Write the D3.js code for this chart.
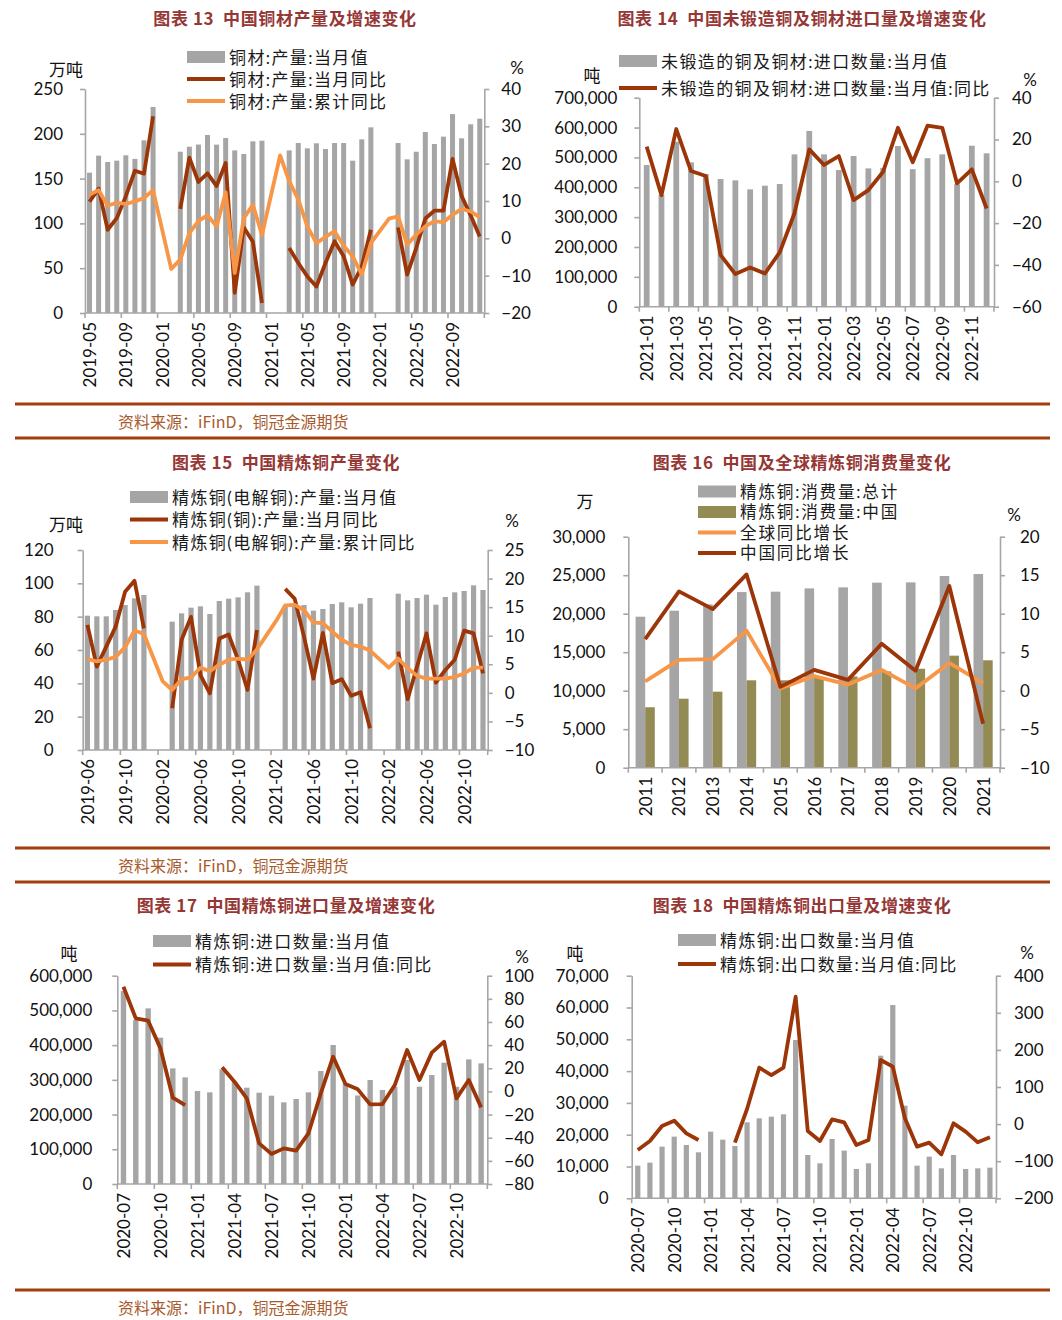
<!DOCTYPE html>
<html><head><meta charset="utf-8">
<script src="https://cdn.jsdelivr.net/npm/d3@7"></script>
<style>body{margin:0;background:#fff}svg{display:block}</style>
</head><body>
<svg id="c" width="1062" height="1320"></svg>
<script>
// ---------- DATA ----------
// Panel 13: 中国铜材产量及增速变化
const p13Months = ["2019-05","2019-06","2019-07","2019-08","2019-09","2019-10","2019-11","2019-12",
"2020-01","2020-02","2020-03","2020-04","2020-05","2020-06","2020-07","2020-08","2020-09","2020-10","2020-11","2020-12",
"2021-01","2021-02","2021-03","2021-04","2021-05","2021-06","2021-07","2021-08","2021-09","2021-10","2021-11","2021-12",
"2022-01","2022-02","2022-03","2022-04","2022-05","2022-06","2022-07","2022-08","2022-09","2022-10","2022-11","2022-12"];
const p13Output = [156.6,175.6,168.5,170,176,172,192.7,229.9,
null,null,180,185.6,188,198.7,187.9,195.3,181.5,177.5,191.6,192.3,
null,null,181.5,189.7,183.8,189.4,183,189.7,189.7,170,193.8,207.2,
null,null,189.7,171.5,180,202,188.6,196.8,222,195,210.6,216.9];
const p13MonthYoY = [9.8,13.3,2.3,5.4,11.3,18.1,17.3,32.7,
null,null,7.9,21.6,15.1,17.4,14,20.2,-14.6,2.9,-0.9,-17.3,
null,null,-2.6,-6.6,-10.2,-12.9,-6.6,-0.8,-4.8,-12.4,-7.5,2.3,
null,null,2.9,-9.7,-2.6,5.3,7.4,7.4,21.3,11.3,6.1,0.5];
const p13CumYoY = [11.7,12.9,8.8,9.5,9.2,9.9,10.8,12.9,
null,-8.2,-5.7,1.4,4.6,6.2,3.2,12.3,-9.3,5.4,9,0.9,
null,22.2,15.3,10.4,3.2,-1.3,0.4,1.9,-2,-4.8,-9.7,-1.3,
null,5.3,5.9,-1.7,1,3.2,4.6,4.3,6.3,7.9,7.2,5.6];
const p13XLabels = ["2019-05","2019-09","2020-01","2020-05","2020-09","2021-01","2021-05","2021-09","2022-01","2022-05","2022-09"];
const p13LeftTicks = [0,50,100,150,200,250];
const p13RightTicks = [-20,-10,0,10,20,30,40];

// Panel 14: 中国未锻造铜及铜材进口量及增速变化
const p14Months = ["2021-01","2021-02","2021-03","2021-04","2021-05","2021-06","2021-07","2021-08","2021-09","2021-10","2021-11","2021-12",
"2022-01","2022-02","2022-03","2022-04","2022-05","2022-06","2022-07","2022-08","2022-09","2022-10","2022-11","2022-12"];
const p14Import = [474500,375000,552600,483400,444300,427600,423100,393000,405300,410800,510200,588500,
510200,457700,504600,463300,465000,538100,460600,497400,510200,410000,539200,513600];
const p14YoY = [16.6,-6.6,25,4.9,2.5,-35.3,-44.4,-41.2,-44.1,-34,-15.3,15.3,
7.8,12.1,-9,-4.2,4.6,25.6,9.1,26.6,25.6,-1,5.7,-13];
const p14XLabels = ["2021-01","2021-03","2021-05","2021-07","2021-09","2021-11","2022-01","2022-03","2022-05","2022-07","2022-09","2022-11"];
const p14LeftTicks = [0,100000,200000,300000,400000,500000,600000,700000];
const p14RightTicks = [-60,-40,-20,0,20,40];

// Panel 15: 中国精炼铜产量变化
const p15Months = ["2019-06","2019-07","2019-08","2019-09","2019-10","2019-11","2019-12",
"2020-01","2020-02","2020-03","2020-04","2020-05","2020-06","2020-07","2020-08","2020-09","2020-10","2020-11","2020-12",
"2021-01","2021-02","2021-03","2021-04","2021-05","2021-06","2021-07","2021-08","2021-09","2021-10","2021-11","2021-12",
"2022-01","2022-02","2022-03","2022-04","2022-05","2022-06","2022-07","2022-08","2022-09","2022-10","2022-11","2022-12"];
const p15Output = [80.6,80.2,80.2,84,87,91,93,
null,null,77,82,85.4,86.2,81.6,89.4,90.8,91.6,94.6,98.6,
null,null,86.5,87.5,87,83.6,84.6,87.6,88.6,85.6,87.8,91.2,
null,null,93.8,89.8,91.2,93.2,87.2,91.8,94.6,95.4,98.8,96];
const p15MonthYoY = [11.9,4.6,8.1,11.6,17.7,19.6,11.3,
null,null,-2.7,9.3,13.3,3.1,-0.1,9.5,10.2,5.8,0.5,11,
null,null,18.2,16.5,9.8,2.5,10.5,1.7,2.4,-0.5,0.1,-6.2,
null,null,7.2,-1.1,4.6,10.4,1.8,4,5.8,10.9,10.4,3.4];
const p15CumYoY = [5.9,5.5,5.8,6.3,8,10.9,10.3,
null,2.0,0.5,2.4,2.7,4.4,3.8,4.9,5.8,6,5.8,7.6,
null,12.5,15.3,15.4,14.5,12.3,12.2,10.7,9.3,8.4,8.1,7.4,
null,4.4,6,4.3,3,2.5,2.5,2.5,2.8,3.4,4.4,4.4];
const p15XLabels = ["2019-06","2019-10","2020-02","2020-06","2020-10","2021-02","2021-06","2021-10","2022-02","2022-06","2022-10"];
const p15LeftTicks = [0,20,40,60,80,100,120];
const p15RightTicks = [-10,-5,0,5,10,15,20,25];

// Panel 16: 中国及全球精炼铜消费量变化
const p16Years = ["2011","2012","2013","2014","2015","2016","2017","2018","2019","2020","2021"];
const p16Global = [19610,20390,21210,22810,22860,23290,23420,24030,24070,24890,25150];
const p16China = [7850,8960,9870,11350,11350,11700,11850,12500,12850,14550,13950];
const p16GlobalYoY = [1.2,4.0,4.1,7.8,0.3,1.9,0.8,2.7,0.3,3.6,0.95];
const p16ChinaYoY = [6.7,12.9,10.6,15.1,0.5,2.7,1.4,6.1,2.6,13.6,-4.3];
const p16LeftTicks = [0,5000,10000,15000,20000,25000,30000];
const p16RightTicks = [-10,-5,0,5,10,15,20];

// Panel 17: 中国精炼铜进口量及增速变化
const p17Months = ["2020-07","2020-08","2020-09","2020-10","2020-11","2020-12",
"2021-01","2021-02","2021-03","2021-04","2021-05","2021-06","2021-07","2021-08","2021-09","2021-10","2021-11","2021-12",
"2022-01","2022-02","2022-03","2022-04","2022-05","2022-06","2022-07","2022-08","2022-09","2022-10","2022-11","2022-12"];
const p17Import = [555800,472300,505900,421400,333100,307200,
267800,264000,330000,295000,277400,263000,254400,235200,244800,264000,325400,400300,
290000,255000,299500,270700,280000,357100,280300,313900,349400,280000,359000,347500];
const p17YoY = [90.5,63.1,61.1,37.2,-5.4,-11.8,
null,null,20.8,8.4,-6,-44.9,-54,-49.2,-51.2,-36.2,-1.7,30,
6.4,1.8,-11.2,-10.9,5.5,35.8,9.9,33.5,43,-6,9.9,-13.8];
const p17XLabels = ["2020-07","2020-10","2021-01","2021-04","2021-07","2021-10","2022-01","2022-04","2022-07","2022-10"];
const p17LeftTicks = [0,100000,200000,300000,400000,500000,600000];
const p17RightTicks = [-80,-60,-40,-20,0,20,40,60,80,100];

// Panel 18: 中国精炼铜出口量及增速变化
const p18Months = ["2020-07","2020-08","2020-09","2020-10","2020-11","2020-12",
"2021-01","2021-02","2021-03","2021-04","2021-05","2021-06","2021-07","2021-08","2021-09","2021-10","2021-11","2021-12",
"2022-01","2022-02","2022-03","2022-04","2022-05","2022-06","2022-07","2022-08","2022-09","2022-10","2022-11","2022-12"];
const p18Export = [10270,11210,16240,19390,16770,14460,
20960,18440,16450,23890,25150,25670,26410,49780,13620,11000,18650,14990,
9220,11000,44850,60780,29130,10270,13100,9430,13620,9220,9430,9640];
const p18YoY = [-69.8,-45.5,-5,9.3,-24.9,-42.8,
null,null,-50,40.7,152.1,132.3,152,343.4,-18.6,-45.5,12.9,4.8,
-56.3,-42.8,172.7,154.8,15.6,-60.8,-50,-81.5,2.1,-20.4,-49.1,-35.6];
const p18XLabels = ["2020-07","2020-10","2021-01","2021-04","2021-07","2021-10","2022-01","2022-04","2022-07","2022-10"];
const p18LeftTicks = [0,10000,20000,30000,40000,50000,60000,70000];
const p18RightTicks = [-200,-100,0,100,200,300,400];

// ---------- STYLE ----------
const GRAY = "#a5a5a5", DARK = "#9c3508", ORANGE = "#f79646", OLIVE = "#948a54";
const AXIS = "#a6a6a6", TITLE = "#953735", RULE = "#a33d10", SRC = "#a85a2c";
const NUM_FONT = "Lato, 'Open Sans', sans-serif";
const CJK_FONT = "'Noto Sans CJK SC', 'Noto Sans', sans-serif";
const LEG_FONT = "Lato, 'Noto Sans CJK SC', sans-serif";

const svg = d3.select("#c");

function panel(cfg) {
  const g = svg.append("g");
  const x = d3.scaleBand().domain(cfg.cats).range([cfg.left, cfg.right]).padding(0);
  const bw = x.bandwidth();
  const yL = d3.scaleLinear().domain(cfg.lDomain).range([cfg.bottom, cfg.top]);
  const yR = d3.scaleLinear().domain(cfg.rDomain).range([cfg.bottom, cfg.top]);

  // bars
  cfg.bars.forEach(b => {
    const data = cfg.cats.map((c, i) => ({c, v: b.values[i]})).filter(d => d.v != null);
    g.append("g").selectAll("rect").data(data).enter().append("rect")
      .attr("x", d => x(d.c) + bw / 2 + b.offset - b.width / 2)
      .attr("width", b.width)
      .attr("y", d => yL(d.v))
      .attr("height", d => yL(0) - yL(d.v))
      .attr("fill", b.color);
  });

  // axes
  const axL = g.append("g").attr("transform", `translate(${cfg.left},0)`)
    .call(d3.axisLeft(yL).tickValues(cfg.lTicks).tickFormat(cfg.lFmt).tickSize(5).tickSizeOuter(0).tickPadding(cfg.lPad));
  const axR = g.append("g").attr("transform", `translate(${cfg.right},0)`)
    .call(d3.axisRight(yR).tickValues(cfg.rTicks).tickFormat(d3.format("d")).tickSize(5).tickSizeOuter(0).tickPadding(cfg.rPad));
  [axL, axR].forEach(a => {
    a.select(".domain").attr("stroke", AXIS).attr("stroke-width", 1.6);
    a.selectAll(".tick line").attr("stroke", AXIS).attr("stroke-width", 1.6);
    a.selectAll("text").attr("font-family", NUM_FONT).attr("font-size", 17).attr("fill", "#111");
  });

  // bottom axis
  g.append("line").attr("x1", cfg.left).attr("x2", cfg.right)
    .attr("y1", cfg.bottom).attr("y2", cfg.bottom).attr("stroke", AXIS).attr("stroke-width", 1.6);
  const n = cfg.cats.length;
  const tickIdx = d3.range(0, n + 1, cfg.step);
  if (tickIdx[tickIdx.length - 1] !== n) tickIdx.push(n);
  g.append("g").selectAll("line").data(tickIdx).enter().append("line")
    .attr("x1", i => cfg.left + i * bw).attr("x2", i => cfg.left + i * bw)
    .attr("y1", cfg.bottom).attr("y2", cfg.bottom + 5)
    .attr("stroke", AXIS).attr("stroke-width", 1.6);
  g.append("g").selectAll("text").data(cfg.xLabels).enter().append("text")
    .attr("transform", d => `translate(${x(d) + bw / 2},${cfg.bottom + 9}) rotate(-90)`)
    .attr("text-anchor", "end").attr("dominant-baseline", "central")
    .attr("font-family", NUM_FONT).attr("font-size", 17).attr("fill", "#111")
    .text(d => d);

  // lines
  cfg.lines.forEach(l => {
    let data = cfg.cats.map((c, i) => ({c, v: l.values[i]}));
    if (l.connect) data = data.filter(d => d.v != null);
    const line = d3.line().defined(d => d.v != null)
      .x(d => x(d.c) + bw / 2).y(d => yR(d.v));
    g.append("path").datum(data).attr("d", line)
      .attr("fill", "none").attr("stroke", l.color).attr("stroke-width", 3.8)
      .attr("stroke-linejoin", "round").attr("stroke-linecap", "butt");
  });

  // title
  g.append("text").attr("x", cfg.titleX).attr("y", cfg.titleY)
    .attr("text-anchor", "middle").attr("dominant-baseline", "central")
    .attr("font-family", CJK_FONT).attr("font-weight", "bold").attr("font-size", 17)
    .attr("letter-spacing", 0.6).attr("fill", TITLE).style("white-space", "pre")
    .text(cfg.title);

  // legend
  const lfs = cfg.legFs || 17;
  cfg.legend.forEach((it, i) => {
    const yy = cfg.legY + i * cfg.legDy;
    if (it.type === "bar") {
      g.append("rect").attr("x", cfg.legX).attr("y", yy - 6).attr("width", 38).attr("height", 12).attr("fill", it.color);
    } else {
      g.append("line").attr("x1", cfg.legX).attr("x2", cfg.legX + 38).attr("y1", yy).attr("y2", yy)
        .attr("stroke", it.color).attr("stroke-width", 4);
    }
    g.append("text").attr("x", cfg.legX + 42).attr("y", yy)
      .attr("dominant-baseline", "central").attr("font-family", LEG_FONT).attr("font-size", lfs)
      .attr("letter-spacing", cfg.legLs || 1.4).attr("fill", "#1a1a1a").text(it.label);
  });

  // units
  g.append("text").attr("x", cfg.uL[0]).attr("y", cfg.uL[1]).attr("text-anchor", "middle")
    .attr("dominant-baseline", "central").attr("font-family", CJK_FONT).attr("font-size", 17)
    .attr("fill", "#111").text(cfg.unitL);
  g.append("text").attr("x", cfg.uR[0]).attr("y", cfg.uR[1]).attr("text-anchor", "middle")
    .attr("dominant-baseline", "central").attr("font-family", NUM_FONT).attr("font-size", 17)
    .attr("fill", "#111").text("%");
}

const fmtInt = d3.format("d"), fmtComma = d3.format(",");

panel({
  cats: p13Months, left: 85, right: 484.3, top: 89, bottom: 313,
  lDomain: [0, 250], rDomain: [-20, 40], lTicks: p13LeftTicks, rTicks: p13RightTicks,
  lFmt: fmtInt, lPad: 17, rPad: 12, step: 4, xLabels: p13XLabels,
  bars: [{values: p13Output, color: GRAY, width: 5, offset: 0}],
  lines: [{values: p13MonthYoY, color: DARK}, {values: p13CumYoY, color: ORANGE, connect: true}],
  title: "图表 13  中国铜材产量及增速变化", titleX: 285, titleY: 17,
  legend: [{type: "bar", color: GRAY, label: "铜材:产量:当月值"},
           {type: "line", color: DARK, label: "铜材:产量:当月同比"},
           {type: "line", color: ORANGE, label: "铜材:产量:累计同比"}],
  legX: 187, legY: 57, legDy: 22,
  unitL: "万吨", uL: [66, 68], uR: [517, 67]
});

panel({
  cats: p14Months, left: 639.3, right: 994, top: 97.7, bottom: 306.7,
  lDomain: [0, 700000], rDomain: [-60, 40], lTicks: p14LeftTicks, rTicks: p14RightTicks,
  lFmt: fmtComma, lPad: 17, rPad: 13, step: 2, xLabels: p14XLabels,
  bars: [{values: p14Import, color: GRAY, width: 5.8, offset: 0}],
  lines: [{values: p14YoY, color: DARK}],
  title: "图表 14  中国未锻造铜及铜材进口量及增速变化", titleX: 802, titleY: 17,
  legend: [{type: "bar", color: GRAY, label: "未锻造的铜及铜材:进口数量:当月值"},
           {type: "line", color: DARK, label: "未锻造的铜及铜材:进口数量:当月值:同比"}],
  legX: 619, legY: 61, legDy: 27,
  unitL: "吨", uL: [592, 74], uR: [1030, 79]
});

panel({
  cats: p15Months, left: 82.7, right: 487.7, top: 550, bottom: 750,
  lDomain: [0, 120], rDomain: [-10, 25], lTicks: p15LeftTicks, rTicks: p15RightTicks,
  lFmt: fmtInt, lPad: 24, rPad: 12, step: 4, xLabels: p15XLabels,
  bars: [{values: p15Output, color: GRAY, width: 5.2, offset: 0}],
  lines: [{values: p15MonthYoY, color: DARK}, {values: p15CumYoY, color: ORANGE, connect: true}],
  title: "图表 15  中国精炼铜产量变化", titleX: 286, titleY: 461,
  legend: [{type: "bar", color: GRAY, label: "精炼铜(电解铜):产量:当月值"},
           {type: "line", color: DARK, label: "精炼铜(铜):产量:当月同比"},
           {type: "line", color: ORANGE, label: "精炼铜(电解铜):产量:累计同比"}],
  legX: 130, legY: 497, legDy: 22.5,
  unitL: "万吨", uL: [66, 523], uR: [512, 520]
});

panel({
  cats: p16Years, left: 628.3, right: 1000, top: 536.7, bottom: 767.7,
  lDomain: [0, 30000], rDomain: [-10, 20], lTicks: p16LeftTicks, rTicks: p16RightTicks,
  lFmt: fmtComma, lPad: 18, rPad: 15, step: 1, xLabels: p16Years,
  bars: [{values: p16Global, color: GRAY, width: 9.6, offset: -4.8},
         {values: p16China, color: OLIVE, width: 9.6, offset: 4.8}],
  lines: [{values: p16GlobalYoY, color: ORANGE}, {values: p16ChinaYoY, color: DARK}],
  title: "图表 16  中国及全球精炼铜消费量变化", titleX: 802, titleY: 461,
  legend: [{type: "bar", color: GRAY, label: "精炼铜:消费量:总计"},
           {type: "bar", color: OLIVE, label: "精炼铜:消费量:中国"},
           {type: "line", color: ORANGE, label: "全球同比增长"},
           {type: "line", color: DARK, label: "中国同比增长"}],
  legX: 698, legY: 491.5, legDy: 20.5, legFs: 16.6, legLs: 1.8,
  unitL: "万", uL: [585, 500], uR: [1014, 514]
});

panel({
  cats: p17Months, left: 117.3, right: 487.3, top: 975.7, bottom: 1184,
  lDomain: [0, 600000], rDomain: [-80, 100], lTicks: p17LeftTicks, rTicks: p17RightTicks,
  lFmt: fmtComma, lPad: 20, rPad: 12, step: 3, xLabels: p17XLabels,
  bars: [{values: p17Import, color: GRAY, width: 5.4, offset: 0}],
  lines: [{values: p17YoY, color: DARK}],
  title: "图表 17  中国精炼铜进口量及增速变化", titleX: 286, titleY: 904,
  legend: [{type: "bar", color: GRAY, label: "精炼铜:进口数量:当月值"},
           {type: "line", color: DARK, label: "精炼铜:进口数量:当月值:同比"}],
  legX: 153, legY: 941, legDy: 23.5,
  unitL: "吨", uL: [69, 952], uR: [522, 956]
});

panel({
  cats: p18Months, left: 631.7, right: 996, top: 975.7, bottom: 1198.3,
  lDomain: [0, 70000], rDomain: [-200, 400], lTicks: p18LeftTicks, rTicks: p18RightTicks,
  lFmt: fmtComma, lPad: 18, rPad: 13, step: 3, xLabels: p18XLabels,
  bars: [{values: p18Export, color: GRAY, width: 5.2, offset: 0}],
  lines: [{values: p18YoY, color: DARK}],
  title: "图表 18  中国精炼铜出口量及增速变化", titleX: 802, titleY: 904,
  legend: [{type: "bar", color: GRAY, label: "精炼铜:出口数量:当月值"},
           {type: "line", color: DARK, label: "精炼铜:出口数量:当月值:同比"}],
  legX: 678, legY: 940, legDy: 24,
  unitL: "吨", uL: [575, 952], uR: [1027, 952]
});

// rules and source notes
[404, 438, 848, 882, 1290].forEach(y => {
  svg.append("line").attr("x1", 15).attr("x2", 1050).attr("y1", y).attr("y2", y)
    .attr("stroke", RULE).attr("stroke-width", 3.2);
});
[421, 865, 1307].forEach(y => {
  svg.append("text").attr("x", 118).attr("y", y).attr("dominant-baseline", "central")
    .attr("font-family", CJK_FONT).attr("font-size", 16).attr("fill", SRC)
    .text("资料来源：iFinD，铜冠金源期货");
});
</script>
</body></html>
